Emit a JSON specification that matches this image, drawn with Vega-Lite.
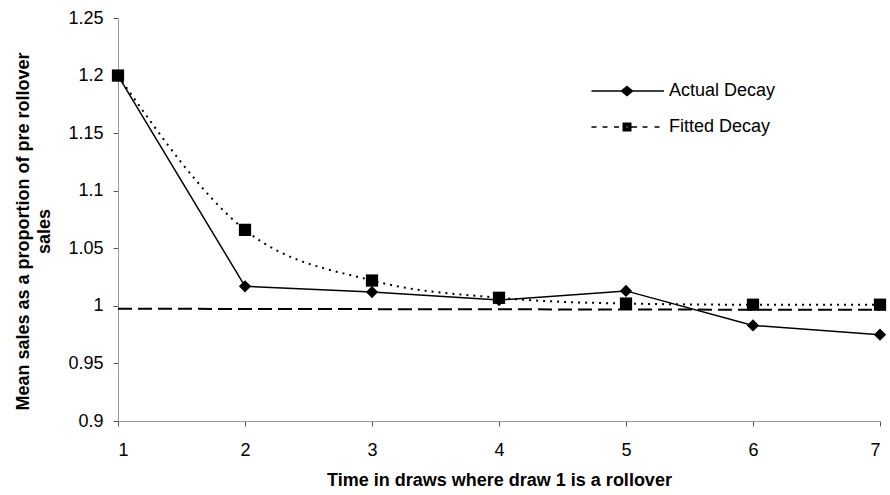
{
  "$schema": "https://vega.github.io/schema/vega-lite/v6.json",
  "width": 762,
  "height": 403,
  "autosize": {"type": "none"},
  "padding": {"left": 118, "top": 18, "right": 10, "bottom": 74},
  "background": "white",
  "config": {
    "view": {"stroke": null},
    "font": "Liberation Sans",
    "axis": {"grid": false, "domainColor": "#9a9a9a", "tickColor": "#555555", "labelColor": "black", "titleColor": "black", "labelFont": "Liberation Sans", "titleFont": "Liberation Sans", "labelFontSize": 18, "titleFontSize": 18, "titleFontWeight": "bold"}
  },
  "datasets": {
    "series": [
      {"draw": 1, "series": "Actual Decay", "value": 1.2},
      {"draw": 2, "series": "Actual Decay", "value": 1.017},
      {"draw": 3, "series": "Actual Decay", "value": 1.012},
      {"draw": 4, "series": "Actual Decay", "value": 1.005},
      {"draw": 5, "series": "Actual Decay", "value": 1.013},
      {"draw": 6, "series": "Actual Decay", "value": 0.983},
      {"draw": 7, "series": "Actual Decay", "value": 0.975},
      {"draw": 1, "series": "Fitted Decay", "value": 1.2},
      {"draw": 2, "series": "Fitted Decay", "value": 1.066},
      {"draw": 3, "series": "Fitted Decay", "value": 1.022},
      {"draw": 4, "series": "Fitted Decay", "value": 1.007},
      {"draw": 5, "series": "Fitted Decay", "value": 1.002},
      {"draw": 6, "series": "Fitted Decay", "value": 1.001},
      {"draw": 7, "series": "Fitted Decay", "value": 1.001}
    ],
    "baseline": [
      {"draw": 1, "value": 0.9975},
      {"draw": 7, "value": 0.9965}
    ]
  },
  "resolve": {"scale": {"shape": "independent"}, "legend": {"shape": "independent"}},
  "layer": [
    {
      "data": {"name": "baseline"},
      "mark": {"type": "line", "color": "black", "strokeWidth": 2, "strokeDash": [14, 6]},
      "encoding": {
        "x": {"field": "draw", "type": "quantitative", "scale": {"domain": [1, 7], "nice": false, "zero": false},
          "axis": {"values": [1, 2, 3, 4, 5, 6, 7], "format": "d", "tickSize": 5, "labelPadding": 15, "titlePadding": 12, "title": "Time in draws where draw 1 is a rollover"}},
        "y": {"field": "value", "type": "quantitative", "scale": {"domain": [0.9, 1.25], "nice": false, "zero": false},
          "axis": {"values": [0.9, 0.95, 1, 1.05, 1.1, 1.15, 1.2, 1.25], "format": "~g", "tickSize": 5, "labelPadding": 10, "titlePadding": 14, "titleLineHeight": 21, "titleY": 213, "title": ["Mean sales as a proportion of pre rollover", "sales"]}}
      }
    },
    {
      "data": {"name": "series"},
      "transform": [{"filter": "datum.series === 'Actual Decay'"}],
      "mark": {"type": "line", "color": "black", "strokeWidth": 1.5},
      "encoding": {
        "x": {"field": "draw", "type": "quantitative"},
        "y": {"field": "value", "type": "quantitative"}
      }
    },
    {
      "data": {"name": "series"},
      "transform": [{"filter": "datum.series === 'Fitted Decay'"}],
      "mark": {"type": "line", "color": "black", "strokeWidth": 2, "strokeDash": [2, 5], "interpolate": "monotone"},
      "encoding": {
        "x": {"field": "draw", "type": "quantitative"},
        "y": {"field": "value", "type": "quantitative"}
      }
    },
    {
      "data": {"name": "series"},
      "mark": {"type": "point", "filled": true, "color": "black", "opacity": 1, "size": 150},
      "encoding": {
        "x": {"field": "draw", "type": "quantitative"},
        "y": {"field": "value", "type": "quantitative"},
        "shape": {
          "field": "series", "type": "nominal",
          "scale": {"domain": ["Actual Decay", "Fitted Decay"], "range": ["diamond", "square"]},
          "legend": null
        }
      }
    },
    {
      "data": {"name": "series"},
      "mark": {"type": "point", "filled": false, "color": "black", "strokeWidth": 1.5, "opacity": 0, "size": 100},
      "encoding": {
        "x": {"field": "draw", "type": "quantitative"},
        "y": {"field": "value", "type": "quantitative"},
        "shape": {
          "field": "series", "type": "nominal",
          "scale": {"domain": ["Actual Decay", "Fitted Decay"], "range": [
            "M-7.1,0L7.4,0M0,-0.9L1.1,0L0,0.9L-1.1,0ZM0,-0.68L0.82,0L0,0.68L-0.82,0ZM0,-0.45L0.55,0L0,0.45L-0.55,0ZM0,-0.22L0.27,0L0,0.22L-0.27,0Z",
            "M-7.1,0L-6.1,0M-4.9,0L-3.9,0M-2.6,0L-1.6,0M0.9,0L2,0M3.1,0L4.1,0M5.5,0L6.5,0M-0.75,-0.75L0.75,-0.75L0.75,0.75L-0.75,0.75ZM-0.5,-0.5L0.5,-0.5L0.5,0.5L-0.5,0.5ZM-0.25,-0.25L0.25,-0.25L0.25,0.25L-0.25,0.25Z"
          ]},
          "legend": {
            "title": null,
            "orient": "none",
            "legendX": 500,
            "legendY": 64,
            "padding": 0,
            "symbolSize": 100,
            "rowPadding": 18,
            "labelOffset": 33,
            "labelFontSize": 18,
            "labelColor": "black",
            "labelFont": "Liberation Sans",
            "symbolStrokeColor": "black",
            "symbolStrokeWidth": 1.5,
            "symbolOpacity": 1
          }
        }
      }
    }
  ]
}
